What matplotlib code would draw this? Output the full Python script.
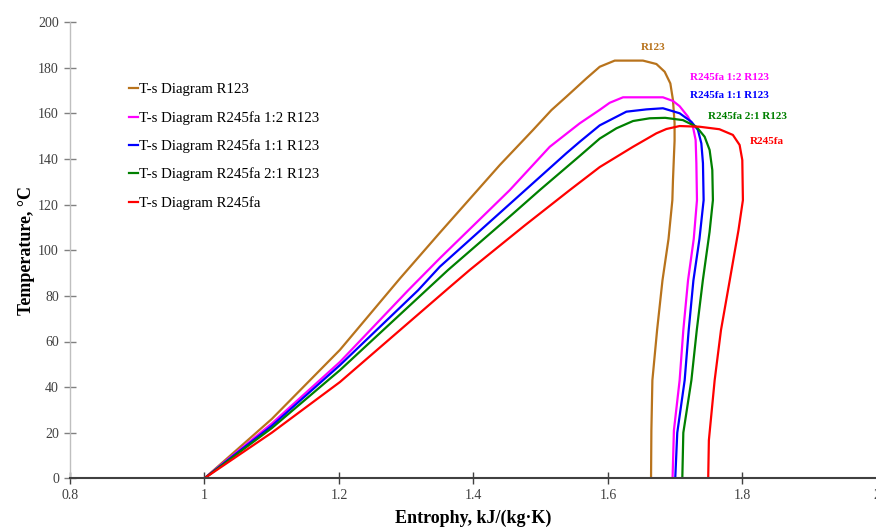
import matplotlib
matplotlib.use("Agg")
import matplotlib.pyplot as plt

# ---- data ----
s_r123 = [1.0, 1.10, 1.2013, 1.2905, 1.3499, 1.4391, 1.4886, 1.5159, 1.5382, 1.5679, 1.5877, 1.610, 1.652,
          1.672, 1.6843, 1.6927, 1.6966, 1.699, 1.699, 1.698, 1.6966, 1.6957, 1.690, 1.681, 1.673, 1.666,
          1.6645, 1.664]
T_r123 = [0, 26, 56.3, 87.6, 107.7, 137.4, 152.8, 161.5, 167.4, 175.4, 180.5, 183.2, 183.2,
          181.7, 178.3, 173.2, 165.9, 155.8, 148, 141, 130.7, 122, 105, 86.8, 65, 43,
          21, 0]

s_12 = [1.0, 1.10, 1.2013, 1.303, 1.3499, 1.4539, 1.5134, 1.558, 1.5877, 1.6025, 1.6223, 1.6817, 1.6966,
        1.7065, 1.7189, 1.7263, 1.7303, 1.7314, 1.7323, 1.7275, 1.719, 1.712, 1.7065, 1.698, 1.696]
T_12 = [0, 24, 51, 82.5, 96.5, 126.4, 145.4, 155.7, 161.6, 164.7, 167.1, 167.1, 165.5,
        163.2, 158.6, 154.2, 148.4, 138.2, 122, 105, 86.8, 65, 43, 21, 0]

s_11 = [1.0, 1.10, 1.2013, 1.3177, 1.3499, 1.4539, 1.5382, 1.558, 1.5877, 1.6273, 1.657, 1.6817, 1.7065,
        1.7239, 1.7337, 1.7388, 1.7412, 1.7422, 1.736, 1.727, 1.720, 1.714, 1.703, 1.700]
T_11 = [0, 23, 49.6, 82.5, 92.8, 120.3, 142.6, 147.6, 154.8, 160.8, 161.8, 162.3, 160.1,
        156.4, 152.8, 146.9, 138.2, 122, 105, 86.8, 65, 43, 20, 0]

s_21 = [1.0, 1.10, 1.2013, 1.3623, 1.4589, 1.4985, 1.558, 1.5877, 1.6125, 1.6372, 1.662, 1.685, 1.7114,
        1.7314, 1.7437, 1.7511, 1.7551, 1.756, 1.751, 1.741, 1.732, 1.724, 1.712, 1.7105]
T_21 = [0, 22, 47.4, 91.4, 116.1, 126.4, 141.4, 149, 153.5, 156.7, 157.9, 158.1, 157.1,
        154.2, 149.8, 144, 135.2, 122, 108, 86.8, 65, 43, 20, 0]

s_245 = [1.0, 1.10, 1.2013, 1.3648, 1.3945, 1.4762, 1.5431, 1.5877, 1.6372, 1.6719, 1.6868, 1.7065,
         1.736, 1.7657, 1.7857, 1.7957, 1.7997, 1.8006, 1.794, 1.781, 1.768, 1.7586, 1.750, 1.749]
T_245 = [0, 20, 42.2, 83.9, 91.4, 110.9, 126.4, 136.5, 145.4, 151.3, 153.2, 154.5,
         154.2, 153.1, 150.6, 146.2, 139.6, 122, 108.8, 86.8, 65, 43, 16.7, 0]

legend_labels = ["T-s Diagram R123", "T-s Diagram R245fa 1:2 R123", "T-s Diagram R245fa 1:1 R123",
                 "T-s Diagram R245fa 2:1 R123", "T-s Diagram R245fa"]
curve_labels = ["R123", "R245fa 1:2 R123", "R245fa 1:1 R123", "R245fa 2:1 R123", "R245fa"]
label_pos_s = [1.667, 1.781, 1.780, 1.807, 1.836]
label_pos_T = [188.8, 175.9, 168.0, 158.8, 147.8]

colors = ["#B8731C", "#FF00FF", "#0000FF", "#008000", "#FF0000"]

x_ticks = [0.8, 1.0, 1.2, 1.4, 1.6, 1.8, 2.0]
x_ticklabels = ["0.8", "1", "1.2", "1.4", "1.6", "1.8", "2"]
y_ticks = list(range(0, 201, 20))

# ---- figure ----
serif = ["Liberation Serif", "DejaVu Serif"]
plt.rcParams["font.family"] = serif

fig = plt.figure(figsize=(8.76, 5.27), dpi=100)
ax = fig.add_axes([70 / 876, (527 - 478.3) / 527, (877 - 70) / 876, (478.3 - 22.3) / 527])

series = [(s_r123, T_r123), (s_12, T_12), (s_11, T_11), (s_21, T_21), (s_245, T_245)]
for (s, T), c, lab in zip(series, colors, legend_labels):
    ax.plot(s, T, color=c, lw=1.6, label=lab, solid_joinstyle="round")

for txt, xs, yt, c in zip(curve_labels, label_pos_s, label_pos_T, colors):
    ax.text(xs, yt, txt, color=c, fontsize=8, fontweight="bold", ha="center", va="center")

ax.set_xlim(0.8, 2.0)
ax.set_ylim(0, 200)
ax.set_xticks(x_ticks)
ax.set_xticklabels(x_ticklabels)
ax.set_yticks(y_ticks)

for sp in ["top", "right"]:
    ax.spines[sp].set_visible(False)
ax.spines["left"].set_color("#BFBFBF")
ax.spines["left"].set_linewidth(1.0)
ax.spines["bottom"].set_color("#404040")
ax.spines["bottom"].set_linewidth(1.5)

ax.tick_params(axis="x", direction="inout", length=8, width=1.0, color="#404040",
               labelsize=10, labelcolor="#404040", pad=4)
ax.tick_params(axis="y", direction="inout", length=8, width=1.0, color="#808080",
               labelsize=10, labelcolor="#404040", pad=4)

ax.set_xlabel("Entrophy, kJ/(kg·K)", fontsize=13, fontweight="bold", labelpad=5)
ax.set_ylabel("Temperature, °C", fontsize=13, fontweight="bold", labelpad=2)

leg = ax.legend(loc="upper left", frameon=False, fontsize=10.7, handlelength=0.65,
                handletextpad=0.05, labelspacing=0.98, borderaxespad=0, borderpad=0)
leg.set_bbox_to_anchor((128.5 / 876, 1 - 83 / 527), transform=fig.transFigure)

fig.savefig("out.png", dpi=100)
